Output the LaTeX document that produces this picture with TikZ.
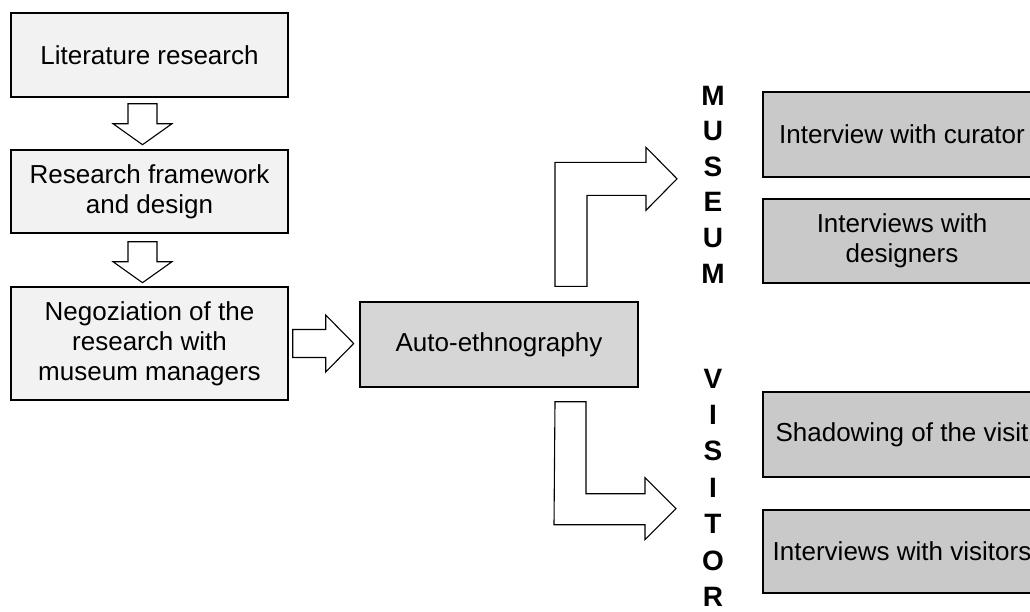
\documentclass[tikz,border=0pt]{standalone}
\usepackage{fontspec}
\setmainfont{Liberation Sans}
\usetikzlibrary{calc}

\begin{document}
\begin{tikzpicture}[x=1pt,y=-1pt,
  stepbox/.style={draw=black,line width=1.4pt,fill=gray!10,minimum width=277pt,
    align=center,inner sep=0pt,font=\fontsize{26}{30}\selectfont},
  autobox/.style={stepbox,fill=gray!32,minimum width=278pt},
  fieldbox/.style={stepbox,fill=gray!42,minimum width=278pt},
  sidelabel/.style={anchor=base,inner sep=0pt,font=\fontsize{28}{30}\selectfont\bfseries},
  blockarrow/.style={draw=black,line width=1.1pt,fill=white,line join=miter}]
  \path[use as bounding box,clip] (0,0) rectangle (1030,611);
  % left column: preparation steps
  \node[stepbox,minimum height=84pt] (lit) at (149.5,55) {Literature research};
  \node[stepbox,minimum height=83pt] (frame) at (149.5,191.5) {Research framework\\and design};
  \node[stepbox,minimum height=113pt] (nego) at (149.5,343.5)
    {Negoziation of the\\research with\\museum managers};
  % centre
  \node[autobox,minimum height=85pt] (auto) at (499,344.5) {Auto-ethnography};
  % right column: fieldwork
  \node[fieldbox,minimum height=85pt] (curator) at (902,134.5) {Interview with curator};
  \node[fieldbox,minimum height=84pt] (designers) at (902,241) {Interviews with\\designers};
  \node[fieldbox,minimum height=85pt] (shadow) at (902,434.5) {Shadowing of the visit};
  \node[fieldbox,minimum height=83pt] (visitors) at (902,551.5) {Interviews with visitors};
  % vertical labels, one letter per line
  \foreach \l [count=\i] in {M,U,S,E,U,M}
    \node[sidelabel] (mus\i) at (713,{105+35.6*(\i-1)}) {\l};
  \foreach \l [count=\i] in {V,I,S,I,T,O,R}
    \node[sidelabel] (vis\i) at (713,{388+36.4*(\i-1)}) {\l};
  % hollow block arrows between the steps
  \draw[blockarrow] ($(lit.south)+(-21.5,6)$) -- ++(29,0) -- ++(0,20) -- ++(15,0)
    -- ++(-29.5,21) -- ++(-29.5,-21) -- ++(15,0) -- cycle;
  \draw[blockarrow] ($(frame.south)+(-21.5,8)$) -- ++(29,0) -- ++(0,20) -- ++(15,0)
    -- ++(-29.5,21) -- ++(-29.5,-21) -- ++(15,0) -- cycle;
  \draw[blockarrow] ($(nego.east)+(4,-14)$) -- ++(33,0) -- ++(0,-14.5) -- ++(28,28.5)
    -- ++(-28,28.5) -- ++(0,-14.5) -- ++(-33,0) -- cycle;
  % bent arrows: up to the museum side, down to the visitor side
  \draw[blockarrow] ($(auto.north)+(56,-15)$) -- ++(0,-124) -- ++(91,0) -- ++(0,-15)
    -- ++(31,31.5) -- ++(-31,31.5) -- ++(0,-15) -- ++(-59,0) -- ++(0,91) -- cycle;
  \draw[blockarrow] ($(auto.south)+(56,14)$) -- ++(31,0) -- ++(0,92) -- ++(59,0)
    -- ++(0,-16) -- ++(31,31) -- ++(-31,31) -- ++(0,-15) -- ++(-91,0) -- cycle;
\end{tikzpicture}
\end{document}
